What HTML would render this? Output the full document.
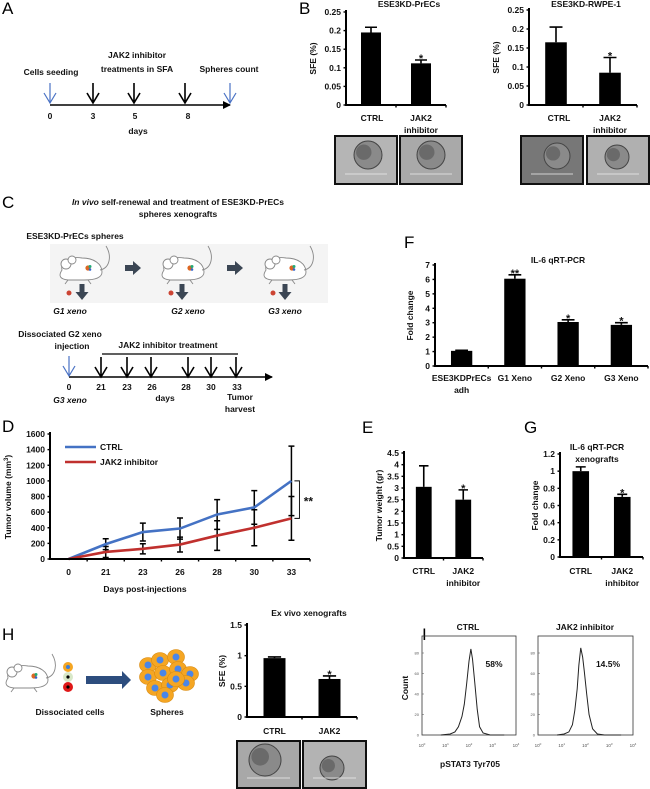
<!DOCTYPE html>
<html><head><meta charset="utf-8"><style>
html,body{margin:0;padding:0;background:#fff;}
svg{display:block;font-family:"Liberation Sans",Arial,sans-serif;}
.t{font-weight:bold;font-size:8.5px;fill:#111;}
.L{font-size:17px;fill:#000;}
</style></head><body>
<svg id="fig" width="650" height="789" viewBox="0 0 650 789" xmlns="http://www.w3.org/2000/svg">
<defs>
<marker id="ah" markerWidth="8" markerHeight="8" refX="7" refY="4" orient="auto" markerUnits="userSpaceOnUse"><path d="M0,0 L8,4 L0,8 Z" fill="#000"/></marker>
<g id="mouse">
<path d="M8,20 C6,12 16,6 28,8 C40,8 48,14 48,22 C48,28 40,30 30,30 L14,30 C6,29 4,26 8,20 Z" fill="#fff" stroke="#888" stroke-width="0.9"/>
<circle cx="12" cy="14" r="5" fill="#fff" stroke="#888" stroke-width="0.9"/>
<circle cx="18" cy="10" r="4" fill="#fff" stroke="#888" stroke-width="0.9"/>
<path d="M46,20 C56,18 58,6 52,-4" fill="none" stroke="#888" stroke-width="0.9"/>
<path d="M14,30 l-3,4 M34,30 l3,4" stroke="#888" stroke-width="0.9"/>
<circle cx="34" cy="18" r="2.6" fill="#d62"/><circle cx="36" cy="16.5" r="1.5" fill="#2a7"/><circle cx="36" cy="19.5" r="1.3" fill="#36c"/>
</g>
<g id="vArrow"><path d="M0,0 V20 M-6,10 L0,20 L6,10" fill="none" stroke="#000" stroke-width="1.6"/></g>
<g id="bArrow"><path d="M0,0 V20 M-6,10 L0,20 L6,10" fill="none" stroke="#4a72c4" stroke-width="1.2"/></g>
<g id="fat"><path d="M-2.5,0 h5 v8 h4 l-6.5,8 l-6.5,-8 h4 z" fill="#3b4654"/></g>
</defs>

<!-- Panel A -->
<text class="L" x="2" y="14">A</text>
<text class="t" x="51" y="75" text-anchor="middle">Cells seeding</text>
<text class="t" x="137" y="58" text-anchor="middle">JAK2 inhibitor</text>
<text class="t" x="137" y="72" text-anchor="middle">treatments in SFA</text>
<text class="t" x="229" y="72" text-anchor="middle">Spheres count</text>
<line x1="50" y1="105" x2="230" y2="105" stroke="#000" stroke-width="1.6" marker-end="url(#ah)"/>
<use href="#bArrow" x="50" y="83"/><use href="#vArrow" x="93" y="83"/><use href="#vArrow" x="134" y="83"/><use href="#vArrow" x="185" y="83"/><use href="#bArrow" x="230" y="83"/>
<g class="t" text-anchor="middle"><text x="50" y="119">0</text><text x="93" y="119">3</text><text x="135" y="119">5</text><text x="188" y="119">8</text><text x="138" y="134">days</text></g>

<!-- Panel B -->
<text class="L" x="299" y="14">B</text>
<text class="t" x="409" y="7" text-anchor="middle">ESE3KD-PrECs</text>
<text class="t" x="586" y="7" text-anchor="middle">ESE3KD-RWPE-1</text>
<g class="t" text-anchor="middle">
<text x="372" y="121">CTRL</text><text x="421" y="121">JAK2</text><text x="421" y="133">inhibitor</text>
<text x="559" y="121">CTRL</text><text x="610" y="121">JAK2</text><text x="610" y="133">inhibitor</text></g>

<!-- Panel C -->
<text class="L" x="2" y="208">C</text>
<text class="t" x="178" y="205" text-anchor="middle"><tspan font-style="italic">In vivo</tspan> self-renewal and treatment of ESE3KD-PrECs</text>
<text class="t" x="178" y="217" text-anchor="middle">spheres xenografts</text>
<text class="t" x="75" y="239" text-anchor="middle">ESE3KD-PrECs spheres</text>
<text class="t" x="78" y="251" text-anchor="middle">injection</text>
<rect x="50" y="244" width="278" height="59" fill="#f4f4f4"/>
<use href="#mouse" x="54" y="250"/><use href="#mouse" x="156" y="250"/><use href="#mouse" x="258" y="250"/>
<path d="M125,265 h8 v-4 l8,7 l-8,7 v-4 h-8 z" fill="#3b4654"/>
<path d="M227,265 h8 v-4 l8,7 l-8,7 v-4 h-8 z" fill="#3b4654"/>
<use href="#fat" x="82" y="284"/><use href="#fat" x="182" y="284"/><use href="#fat" x="285" y="284"/>
<circle cx="69" cy="293" r="2.5" fill="#c43"/><circle cx="171" cy="293" r="2.5" fill="#c43"/><circle cx="273" cy="293" r="2.5" fill="#c43"/>
<g class="t" font-style="italic" text-anchor="middle"><text x="70" y="314">G1 xeno</text><text x="188" y="314">G2 xeno</text><text x="285" y="314">G3 xeno</text></g>
<text class="t" x="60" y="337" text-anchor="middle">Dissociated G2 xeno</text>
<text class="t" x="72" y="349" text-anchor="middle">injection</text>
<text class="t" x="168" y="348" text-anchor="middle">JAK2 inhibitor treatment</text>
<line x1="102" y1="354" x2="238" y2="354" stroke="#000" stroke-width="1.2"/>
<line x1="69" y1="377" x2="272" y2="377" stroke="#000" stroke-width="1.6" marker-end="url(#ah)"/>
<use href="#bArrow" x="69" y="356"/><use href="#vArrow" x="101" y="357"/><use href="#vArrow" x="127" y="357"/><use href="#vArrow" x="151" y="357"/><use href="#vArrow" x="188" y="357"/><use href="#vArrow" x="211" y="357"/><use href="#vArrow" x="236" y="357"/>
<g class="t" text-anchor="middle"><text x="69" y="390">0</text><text x="101" y="390">21</text><text x="127" y="390">23</text><text x="152" y="390">26</text><text x="186" y="390">28</text><text x="211" y="390">30</text><text x="237" y="390">33</text>
<text x="165" y="401">days</text><text x="240" y="400">Tumor</text><text x="240" y="412">harvest</text><text x="70" y="403" font-style="italic">G3 xeno</text></g>

<!-- Panel letters -->
<text class="L" x="2" y="432">D</text>
<text class="L" x="362" y="433">E</text>
<text class="L" x="404" y="248">F</text>
<text class="L" x="524" y="433">G</text>
<text class="L" x="2" y="640">H</text>
<text class="L" x="422" y="640">I</text>

<text class="t" x="558" y="263" text-anchor="middle">IL-6 qRT-PCR</text>
<text class="t" x="597" y="450" text-anchor="middle">IL-6 qRT-PCR</text>
<text class="t" x="597" y="462" text-anchor="middle">xenografts</text>
<text class="t" x="309" y="616" text-anchor="middle">Ex vivo xenografts</text>

<!-- H diagram -->
<use href="#mouse" x="0" y="658"/>
<circle cx="68" cy="667" r="5" fill="#f5a623"/><circle cx="68" cy="667" r="2" fill="#3d7fd9"/>
<circle cx="68" cy="677" r="5" fill="#d8e8c8"/><circle cx="68" cy="677" r="1.6" fill="#000"/>
<circle cx="68" cy="687" r="5" fill="#e01818"/><circle cx="68" cy="687" r="1.6" fill="#000"/>
<path d="M86,676 h36 v-5 l9,9 l-9,9 v-5 h-36 z" fill="#2d4d7e"/>
<g id="spheres"></g>
<text class="t" x="70" y="715" text-anchor="middle">Dissociated cells</text>
<text class="t" x="167" y="715" text-anchor="middle">Spheres</text>

<!-- I -->
<text class="t" x="468" y="630" text-anchor="middle">CTRL</text>
<text class="t" x="585" y="630" text-anchor="middle">JAK2 inhibitor</text>
<text class="t" x="470" y="767" text-anchor="middle">pSTAT3 Tyr705</text>
<text class="t" x="408" y="688" text-anchor="middle" transform="rotate(-90 408 688)">Count</text>
<g id="charts"></g>
</svg>
<script>
// ---- data ----
const bCats = ["CTRL", "JAK2 inhibitor"];
const b1Vals = [0.195, 0.112];
const b1Errs = [0.014, 0.009];
const b2Vals = [0.165, 0.085];
const b2Errs = [0.04, 0.04];
const bTicks = [0, 0.05, 0.1, 0.15, 0.2, 0.25];
const bTickLabels = ["0", "0.05", "0.1", "0.15", "0.2", "0.25"];
const fCats = ["ESE3KDPrECs adh", "G1 Xeno", "G2 Xeno", "G3 Xeno"];
const fVals = [1.05, 6.05, 3.05, 2.85];
const fErrs = [0.04, 0.27, 0.15, 0.15];
const fTicks = [0, 1, 2, 3, 4, 5, 6, 7];
const eVals = [3.05, 2.5];
const eErrs = [0.9, 0.42];
const eTicks = [0, 0.5, 1, 1.5, 2, 2.5, 3, 3.5, 4, 4.5];
const gVals = [1.0, 0.7];
const gErrs = [0.05, 0.03];
const gTicks = [0, 0.2, 0.4, 0.6, 0.8, 1, 1.2];
const hVals = [0.96, 0.62];
const hErrs = [0.02, 0.05];
const hTicks = [0, 0.5, 1, 1.5];
const dDays = ["0", "21", "23", "26", "28", "30", "33"];
const dCtrl = [0, 190, 345, 390, 570, 660, 1000];
const dCtrlSd = [0, 70, 115, 135, 190, 215, 445];
const dJak = [0, 90, 130, 185, 300, 400, 520];
const dJakSd = [0, 70, 65, 95, 190, 230, 280];
const dTicks = [0, 200, 400, 600, 800, 1000, 1200, 1400, 1600];
const histLog = [0.8, 1.2, 1.4, 1.55, 1.7, 1.8, 1.9, 2.0, 2.08, 2.15, 2.25, 2.35, 2.45, 2.6, 2.9, 3.5];
const histCtrl = [0, 1, 3, 8, 18, 30, 50, 72, 84, 74, 50, 25, 8, 2, 0, 0];
const histLogJ = [0.8, 1.1, 1.3, 1.45, 1.55, 1.65, 1.72, 1.8, 1.88, 1.95, 2.05, 2.15, 2.3, 2.5, 2.8, 3.5];
const histJak = [0, 1, 3, 10, 24, 45, 68, 85, 76, 62, 40, 20, 6, 1, 0, 0];
const hxTicks = [0, 1, 2, 3, 4];
const hyTicks = [0, 20, 40, 60, 80];

const NS = 'http://www.w3.org/2000/svg';
const root = document.getElementById('charts');
function mk(tag, attrs, parent) {
  const e = document.createElementNS(NS, tag);
  for (const k in attrs) e.setAttribute(k, attrs[k]);
  (parent || root).appendChild(e);
  return e;
}
function txt(x, y, s, anchor, parent, size) {
  const t = mk('text', {x: x, y: y, 'text-anchor': anchor || 'middle', 'class': 't'}, parent);
  if (size) t.style.fontSize = size + 'px';
  t.textContent = s;
  return t;
}

function barChart(name, ax, xEnd, y0, yTop, maxV, vals, errs, ticks, tickLabels, ytitle, cats) {
  const g = mk('g', {});
  
  
  const ys = v => y0 - (v / maxV) * (y0 - yTop);
  const band = (xEnd - ax) / vals.length;
  const xs = i => ax + band * (i + 0.5);
  const bw = band * 0.4;
  vals.forEach((v, i) => {
    const top = ys(v + errs[i]);
    const eb = mk('path', {d: `M${xs(i)},${ys(v)} V${top} M${xs(i) - bw * 0.3},${top} H${xs(i) + bw * 0.3}`, stroke: '#000', 'stroke-width': 1.6, fill: 'none'}, g);
    
    
    const r = mk('rect', {x: xs(i) - bw / 2, y: ys(v), width: bw, height: y0 - ys(v), fill: '#000'}, g);
    
    
  });
  const axis = mk('path', {d: `M${ax},${yTop - 2} V${y0} H${xEnd}`, stroke: '#000', 'stroke-width': 2, fill: 'none'}, g);
  
  
  ticks.forEach((t, i) => {
    mk('line', {x1: ax - 2.5, x2: ax, y1: ys(t), y2: ys(t), stroke: '#000', 'stroke-width': 1.4}, g);
    const lb = txt(ax - 5, ys(t) + 3, tickLabels ? tickLabels[i] : String(t), 'end', g);
    
    
  });
  for (let i = 1; i <= vals.length; i++) mk('line', {x1: ax + band * i, x2: ax + band * i, y1: y0, y2: y0 + 2.5, stroke: '#000', 'stroke-width': 1.4}, g);
  const yt = txt(0, 0, ytitle, 'middle', g);
  yt.setAttribute('transform', `translate(${ax - (tickLabels ? 30 : 22)},${(y0 + yTop) / 2}) rotate(-90)`);
  
  
  return {xs: xs, ys: ys, g: g, bw: bw};
}
function star(c, i, v, e, s) {
  const st = txt(c.xs(i), c.ys(v + e) + 2, s, 'middle', c.g, 11);
  
  
}

const b1 = barChart('chart-b1', 346, 446, 105, 12, 0.25, b1Vals, b1Errs, bTicks, bTickLabels, 'SFE (%)', bCats);
star(b1, 1, b1Vals[1], b1Errs[1], '*');
const b2 = barChart('chart-b2', 529, 637, 105, 10, 0.25, b2Vals, b2Errs, bTicks, bTickLabels, 'SFE (%)', bCats);
star(b2, 1, b2Vals[1], b2Errs[1], '*');
const f = barChart('chart-f', 435, 648, 366, 265, 7, fVals, fErrs, fTicks, null, 'Fold change', fCats);
star(f, 1, fVals[1], fErrs[1], '**'); star(f, 2, fVals[2], fErrs[2], '*'); star(f, 3, fVals[3], fErrs[3], '*');
fCats.forEach((c, i) => {
  const parts = c === 'ESE3KDPrECs adh' ? ['ESE3KDPrECs', 'adh'] : [c];
  parts.forEach((p, j) => {
    const l = txt(f.xs(i), 381 + j * 12, p, 'middle', f.g);
    
    
  });
});
const e = barChart('chart-e', 404, 483, 558, 453, 4.5, eVals, eErrs, eTicks, null, 'Tumor weight (gr)', bCats);
star(e, 1, eVals[1], eErrs[1], '*');
const gC = barChart('chart-g', 560, 643, 557, 454, 1.2, gVals, gErrs, gTicks, null, 'Fold change', bCats);
star(gC, 1, gVals[1], gErrs[1], '*');
[[e, 'CTRL', 'JAK2', 'inhibitor'], [gC, 'CTRL', 'JAK2', 'inhibitor']].forEach(a => {
  const c = a[0];
  txt(c.xs(0), 574, a[1], 'middle', c.g);
  txt(c.xs(1), 574, a[2], 'middle', c.g);
  txt(c.xs(1), 586, a[3], 'middle', c.g);
});
const h = barChart('chart-h', 247, 357, 717, 625, 1.5, hVals, hErrs, hTicks, null, 'SFE (%)', bCats);
star(h, 1, hVals[1], hErrs[1], '*');
txt(h.xs(0), 734, 'CTRL', 'middle', h.g);
txt(h.xs(1), 734, 'JAK2', 'middle', h.g);

function micro(name, x, y, w, hh, bg, cx, cy, rr) {
  const g = mk('g', {});
  
  
  mk('rect', {x: x, y: y, width: w, height: hh, fill: bg, stroke: '#111', 'stroke-width': 2}, g);
  mk('circle', {cx: cx, cy: cy, r: rr, fill: '#8a8a8a', stroke: '#444', 'stroke-width': 1}, g);
  mk('circle', {cx: cx - rr * 0.3, cy: cy - rr * 0.2, r: rr * 0.55, fill: '#6a6a6a'}, g);
  mk('line', {x1: x + 10, x2: x + w - 10, y1: y + hh - 10, y2: y + hh - 10, stroke: '#eee', 'stroke-width': 0.8}, g);
}
micro('sphere-image-b1-ctrl', 335, 136, 62, 48, '#b5b5b5', 368, 155, 14);
micro('sphere-image-b1-jak2', 400, 136, 62, 48, '#a9a9a9', 431, 155, 14);
micro('sphere-image-b2-ctrl', 521, 136, 62, 48, '#777', 557, 156, 13);
micro('sphere-image-b2-jak2', 587, 136, 62, 48, '#b0b0b0', 617, 157, 12);
micro('sphere-image-h-ctrl', 237, 741, 63, 47, '#a8a8a8', 265, 760, 16);
micro('sphere-image-h-jak2', 303, 741, 63, 47, '#b3b3b3', 332, 768, 12);

(function () {
  const g = mk('g', {});
  
  
  const ax = 50, xEnd = 310, y0 = 559, yTop = 434, maxV = 1600;
  const band = (xEnd - ax) / dDays.length;
  const xs = i => ax + band * (i + 0.5);
  const ys = v => y0 - v / maxV * (y0 - yTop);
  function err(vals, sds, nm) {
    vals.forEach((v, i) => {
      if (!sds[i]) return;
      const x = xs(i), a = ys(v + sds[i]), b = ys(v - sds[i]);
      const p = mk('path', {d: `M${x},${a} V${b} M${x - 3},${a} H${x + 3} M${x - 3},${b} H${x + 3}`, stroke: '#000', 'stroke-width': 1.5, fill: 'none'}, g);
      
      
    });
  }
  err(dCtrl, dCtrlSd, 'ctrl-error-bar');
  err(dJak, dJakSd, 'jak2-error-bar');
  const l1 = mk('polyline', {points: dCtrl.map((v, i) => xs(i) + ',' + ys(v)).join(' '), fill: 'none', stroke: '#4472c4', 'stroke-width': 2.6}, g);
  
  
  const l2 = mk('polyline', {points: dJak.map((v, i) => xs(i) + ',' + ys(v)).join(' '), fill: 'none', stroke: '#c0302e', 'stroke-width': 2.6}, g);
  
  
  const ax1 = mk('path', {d: `M${ax},${yTop - 2} V${y0} H${xEnd}`, stroke: '#000', 'stroke-width': 2, fill: 'none'}, g);
  
  
  dTicks.forEach(t => {
    mk('line', {x1: ax - 2.5, x2: ax, y1: ys(t), y2: ys(t), stroke: '#000', 'stroke-width': 1.4}, g);
    const lb = txt(ax - 5, ys(t) + 3, String(t), 'end', g);
    
    
  });
  dDays.forEach((d, i) => {
    mk('line', {x1: ax + band * (i + 1), x2: ax + band * (i + 1), y1: y0, y2: y0 + 2.5, stroke: '#000', 'stroke-width': 1.4}, g);
    const lb = txt(xs(i), 575, d, 'middle', g);
    
    
  });
  const xt = txt(145, 592, 'Days post-injections', 'middle', g);
  
  
  const yt = txt(0, 0, '', 'middle', g);
  yt.innerHTML = 'Tumor volume (mm<tspan dy="-3" font-size="6">3</tspan><tspan dy="3">)</tspan>';
  yt.setAttribute('transform', 'translate(11,497) rotate(-90)');
  
  
  const lg1 = mk('line', {x1: 65, x2: 96, y1: 447, y2: 447, stroke: '#4472c4', 'stroke-width': 2.6}, g);
  
  
  txt(100, 450, 'CTRL', 'start', g);
  const lg2 = mk('line', {x1: 65, x2: 96, y1: 462, y2: 462, stroke: '#c0302e', 'stroke-width': 2.6}, g);
  
  
  txt(100, 465, 'JAK2 inhibitor', 'start', g);
  const last = dCtrl.length - 1;
  const br = mk('path', {d: `M${xs(last) + 3},${ys(dCtrl[last])} H${xs(last) + 8} V${ys(dJak[last])} H${xs(last) + 3}`, stroke: '#000', 'stroke-width': 0.9, fill: 'none'}, g);
  
  
  txt(xs(last) + 17, (ys(dCtrl[last]) + ys(dJak[last])) / 2 + 6, '**', 'middle', g, 12);
})();

(function () {
  const sp = document.getElementById('spheres');
  const pts = [[148,665],[160,660],[176,657],[148,677],[163,673],[178,669],[190,674],[155,688],[170,685],[186,683],[165,695],[176,679]];
  pts.forEach(p => {
    mk('ellipse', {cx: p[0], cy: p[1], rx: 8.5, ry: 7.5, fill: '#f5a623', stroke: '#d88a10', 'stroke-width': 0.6}, sp);
    mk('circle', {cx: p[0], cy: p[1], r: 3.5, fill: '#4a86e8'}, sp);
  });
})();

function hist(name, x0, x1, logs, counts, pctLabel, pctX) {
  const y0 = 735, yT = 636;
  const g = mk('g', {});
  
  
  const xs = l => x0 + l / 4 * (x1 - x0);
  const ys = c => y0 - c * 1.025;
  const box = mk('rect', {x: x0, y: yT, width: x1 - x0, height: y0 - yT, fill: 'none', stroke: '#333', 'stroke-width': 0.8}, g);
  
  
  const c = mk('polyline', {points: logs.map((l, i) => xs(l) + ',' + ys(counts[i])).join(' '), fill: 'none', stroke: '#222', 'stroke-width': 1}, g);
  
  
  hyTicks.forEach(t => {
    mk('line', {x1: x0, x2: x0 + 2, y1: ys(t), y2: ys(t), stroke: '#555', 'stroke-width': 0.5}, g);
    const l = txt(x0 - 3, ys(t) + 1.5, String(t), 'end', g, 4);
    l.style.fontWeight = 'normal';
    l.style.fill = '#555';
    
  });
  hxTicks.forEach(t => {
    const l = txt(xs(t), 747, '', 'middle', g, 4.5);
    l.style.fontWeight = 'normal';
    l.style.fill = '#555';
    l.innerHTML = '10<tspan dy="-2" style="font-size:3px">' + t + '</tspan>';
    
  });
  txt(pctX, 667, pctLabel, 'middle', g);
}
hist('histogram-ctrl', 422, 516, histLog, histCtrl, '58%', 494);
hist('histogram-jak2', 538, 633, histLogJ, histJak, '14.5%', 608);
</script>
</body></html>
